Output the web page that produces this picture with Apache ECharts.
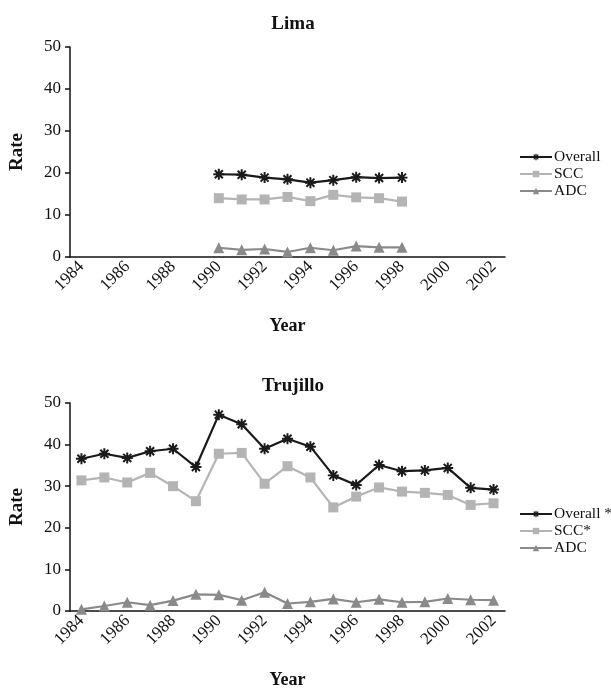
<!DOCTYPE html>
<html>
<head>
<meta charset="utf-8">
<script src="https://cdn.jsdelivr.net/npm/echarts@6/dist/echarts.min.js"></script>
<style>
  html, body { margin: 0; padding: 0; background: #fff; }
  #chart { width: 611px; height: 693px; }
</style>
</head>
<body>
<div id="chart"></div>
<script>
// data
var years = ['1984', '1985', '1986', '1987', '1988', '1989', '1990', '1991', '1992', '1993',
             '1994', '1995', '1996', '1997', '1998', '1999', '2000', '2001', '2002'];

var limaOverall = [null, null, null, null, null, null, 19.7, 19.6, 18.9, 18.5, 17.7, 18.3, 19.0, 18.8, 18.9, null, null, null, null];
var limaSCC     = [null, null, null, null, null, null, 14.0, 13.7, 13.7, 14.3, 13.3, 14.8, 14.2, 14.0, 13.2, null, null, null, null];
var limaADC     = [null, null, null, null, null, null, 2.2, 1.7, 1.9, 1.2, 2.2, 1.6, 2.6, 2.3, 2.3, null, null, null, null];

var trujOverall = [36.6, 37.8, 36.8, 38.4, 39.0, 34.6, 47.2, 44.9, 39.0, 41.4, 39.5, 32.6, 30.3, 35.1, 33.6, 33.8, 34.4, 29.6, 29.2];
var trujSCC     = [31.4, 32.1, 30.9, 33.2, 30.0, 26.4, 37.8, 38.0, 30.6, 34.8, 32.1, 24.9, 27.5, 29.7, 28.7, 28.4, 27.9, 25.5, 25.9];
var trujADC     = [0.4, 1.2, 2.1, 1.4, 2.5, 4.0, 3.9, 2.6, 4.5, 1.8, 2.2, 2.9, 2.1, 2.8, 2.1, 2.2, 3.0, 2.7, 2.6];

var font = 'Liberation Serif, Times New Roman, serif';
var star = 'path://M0,4.1L10,4.1L10,5.9L0,5.9Z M4.1,0L5.9,0L5.9,10L4.1,10Z M0.7,2L2,0.7L9.3,8L8,9.3Z M8,0.7L9.3,2L2,9.3L0.7,8Z';

function xAxisFor(gi) {
  return {
    type: 'category', gridIndex: gi, data: years, boundaryGap: true,
    name: 'Year', nameLocation: 'middle', nameGap: 60,
    nameTextStyle: { fontFamily: font, fontWeight: 'bold', fontSize: 18, color: '#111' },
    axisLine: { lineStyle: { color: '#111', width: 1.5 } },
    axisTick: { interval: 0, length: 5, lineStyle: { color: '#111', width: 1.5 } },
    axisLabel: { interval: 1, rotate: 45, fontFamily: font, fontSize: 17, color: '#111', margin: 7 },
    splitLine: { show: false }
  };
}
function yAxisFor(gi) {
  return {
    type: 'value', gridIndex: gi, min: 0, max: 50, interval: 10,
    name: 'Rate', nameLocation: 'middle', nameGap: 43, nameRotate: 90,
    nameTextStyle: { fontFamily: font, fontWeight: 'bold', fontSize: 19, color: '#111' },
    axisLine: { show: true, lineStyle: { color: '#111', width: 1.5 } },
    axisTick: { show: true, length: 5, lineStyle: { color: '#111', width: 1.5 } },
    axisLabel: { fontFamily: font, fontSize: 17, color: '#111', margin: 9 },
    splitLine: { show: false }
  };
}
function series(name, data, gi, kind) {
  var s = {
    name: name, type: 'line', data: data, xAxisIndex: gi, yAxisIndex: gi,
    connectNulls: false, animation: false
  };
  if (kind === 'overall') {
    s.symbol = star; s.symbolSize = 11;
    s.lineStyle = { color: '#1a1a1a', width: 2.2 };
    s.itemStyle = { color: '#1a1a1a' };
  } else if (kind === 'scc') {
    s.symbol = 'rect'; s.symbolSize = 10;
    s.lineStyle = { color: '#b4b4b4', width: 2.2 };
    s.itemStyle = { color: '#b4b4b4' };
  } else {
    s.symbol = 'triangle'; s.symbolSize = 11;
    s.lineStyle = { color: '#8a8a8a', width: 2.2 };
    s.itemStyle = { color: '#8a8a8a' };
  }
  return s;
}

var myChart = echarts.init(document.getElementById('chart'));
var legendBase = {
  orient: 'vertical', left: 519, itemWidth: 32, itemHeight: 8, itemGap: 1,
  padding: 0,
  textStyle: { fontFamily: font, fontSize: 15.5, color: '#111', padding: [0, 0, 0, -3] }
};
var option = {
  backgroundColor: '#fff',
  animation: false,
  title: [
    { text: 'Lima', left: 288, top: 10, textAlign: 'center',
      textStyle: { fontFamily: font, fontWeight: 'bold', fontSize: 19, color: '#111' } },
    { text: 'Trujillo', left: 288, top: 372, textAlign: 'center',
      textStyle: { fontFamily: font, fontWeight: 'bold', fontSize: 19, color: '#111' } }
  ],
  legend: [
    Object.assign({}, legendBase, { top: 149, data: ['Overall', 'SCC', 'ADC'] }),
    Object.assign({}, legendBase, { top: 506, data: ['Overall *', 'SCC*', 'ADC '] })
  ],
  grid: [
    { left: 70, width: 435, top: 47, height: 210 },
    { left: 70, width: 435, top: 403, height: 208 }
  ],
  xAxis: [xAxisFor(0), xAxisFor(1)],
  yAxis: [yAxisFor(0), yAxisFor(1)],
  series: [
    series('Overall', limaOverall, 0, 'overall'),
    series('SCC', limaSCC, 0, 'scc'),
    series('ADC', limaADC, 0, 'adc'),
    series('Overall *', trujOverall, 1, 'overall'),
    series('SCC*', trujSCC, 1, 'scc'),
    series('ADC ', trujADC, 1, 'adc')
  ]
};
myChart.setOption(option);
</script>
</body>
</html>
